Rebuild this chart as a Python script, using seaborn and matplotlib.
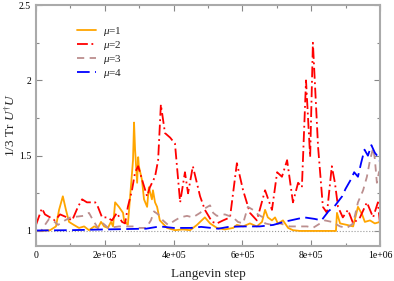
import numpy as np
import pandas as pd
import seaborn as sns
import matplotlib.pyplot as plt
from matplotlib.ticker import MultipleLocator, FixedFormatter, FixedLocator

# Langevin step in units of 1e5
steps_mu1 = [0, 0.12, 0.41, 0.58, 0.67, 0.78, 0.87, 0.96, 1.10, 1.25, 1.40, 1.54, 1.69, 1.80,
             1.89, 1.98, 2.09, 2.18, 2.24, 2.30, 2.41, 2.53, 2.56, 2.67, 2.73, 2.82, 2.85, 2.88,
             2.94, 2.97, 2.99, 3.08, 3.14, 3.23, 3.28, 3.37, 3.40, 3.46, 3.52, 3.60, 3.81, 4.04,
             4.27, 4.48, 4.68, 4.77, 4.91, 5.06, 5.26, 5.49, 5.73, 5.84, 6.02, 6.22, 6.42, 6.57,
             6.66, 6.74, 6.86, 6.95, 7.03, 7.18, 7.33, 7.47, 7.67, 8.26, 8.72, 8.75, 8.84, 9.04,
             9.22, 9.36, 9.48, 9.56, 9.71, 9.85, 10.0]
vals_mu1 = [1.0, 1.0, 1.005, 1.03, 1.14, 1.23, 1.14, 1.06, 1.04, 1.02, 1.03, 1.005, 1.03, 1.02,
            1.06, 1.03, 1.02, 1.06, 1.03, 1.19, 1.16, 1.12, 1.07, 1.04, 1.21, 1.47, 1.72, 1.54,
            1.32, 1.49, 1.43, 1.34, 1.21, 1.16, 1.29, 1.21, 1.27, 1.19, 1.16, 1.07, 1.02, 1.005,
            1.01, 1.005, 1.04, 1.06, 1.09, 1.05, 1.02, 1.01, 1.02, 1.04, 1.03, 1.05, 1.03, 1.06,
            1.14, 1.09, 1.07, 1.09, 1.05, 1.07, 1.02, 1.005, 1.0, 1.0, 1.0, 1.12, 1.05, 1.04,
            1.03, 1.16, 1.11, 1.06, 1.07, 1.05, 1.06]

steps_mu2 = [0, 0.17, 0.26, 0.41, 0.55, 0.70, 0.90, 1.05, 1.22, 1.34, 1.48, 1.57, 1.72, 1.80,
             1.92, 2.06, 2.21, 2.35, 2.50, 2.59, 2.67, 2.79, 2.88, 2.97, 3.11, 3.23, 3.31, 3.46,
             3.55, 3.63, 3.75, 3.90, 4.04, 4.19, 4.33, 4.42, 4.56, 4.77, 4.91, 5.12, 5.26, 5.44,
             5.64, 5.84, 6.02, 6.22, 6.42, 6.66, 6.86, 7.01, 7.15, 7.30, 7.47, 7.62, 7.73, 7.85,
             7.97, 8.05, 8.20, 8.34, 8.46, 8.60, 8.69, 8.78, 8.92, 9.07, 9.22, 9.42, 9.62, 9.80,
             9.94, 10.0]
vals_mu2 = [1.04, 1.15, 1.11, 1.09, 1.07, 1.11, 1.09, 1.07, 1.16, 1.21, 1.19, 1.19, 1.19, 1.16,
            1.09, 1.09, 1.07, 1.12, 1.06, 1.05, 1.16, 1.27, 1.39, 1.43, 1.32, 1.23, 1.29, 1.36,
            1.47, 1.84, 1.65, 1.62, 1.58, 1.19, 1.39, 1.25, 1.43, 1.23, 1.14, 1.06, 1.05, 1.07,
            1.09, 1.45, 1.27, 1.12, 1.07, 1.27, 1.14, 1.39, 1.36, 1.47, 1.19, 1.32, 1.29, 2.0,
            1.49, 2.25, 1.56, 1.16, 1.12, 1.43, 1.32, 1.16, 1.09, 1.14, 1.05, 1.09, 1.19, 1.09,
            1.19, 1.05]

steps_mu3 = [0, 0.15, 0.2, 0.38, 0.49, 0.64, 0.84, 1.0, 1.37, 1.54, 1.66, 1.80, 1.95, 2.1,
             2.41, 2.91, 3.0, 3.2, 3.34, 3.43, 3.55, 3.69, 3.84, 4.04, 4.19, 4.39, 4.56, 4.77,
             4.91, 5.06, 5.15, 5.26, 5.49, 5.73, 5.87, 6.02, 6.16, 6.31, 6.45, 6.60, 6.66, 6.86,
             7.09, 7.38, 7.88, 8.05, 8.40, 8.60, 8.84, 9.04, 9.22, 9.36, 9.51, 9.62, 9.71, 9.80,
             9.85, 9.91, 9.97, 10.0]
vals_mu3 = [1.0, 1.0, 1.02, 1.08, 1.07, 1.04, 1.07, 1.09, 1.10, 1.12, 1.07, 1.02, 1.05, 1.02,
            1.03, 1.03, 1.02, 1.02, 1.07, 1.13, 1.11, 1.07, 1.04, 1.07, 1.09, 1.10, 1.09, 1.12,
            1.15, 1.17, 1.12, 1.10, 1.11, 1.09, 1.06, 1.05, 1.16, 1.14, 1.11, 1.09, 1.05, 1.04,
            1.05, 1.03, 1.03, 1.02, 1.07, 1.06, 1.03, 1.02, 1.05, 1.19, 1.27, 1.36, 1.47, 1.55,
            1.48, 1.32, 1.39, 1.40]

steps_mu4 = [0, 1.0, 2.0, 2.5, 3.2, 3.6, 4.0, 4.5, 4.8, 5.3, 5.6, 6.0, 6.5, 6.9, 7.2, 7.5,
             7.8, 8.1, 8.3, 8.5, 8.7, 8.9, 9.0, 9.15, 9.25, 9.36, 9.45, 9.55, 9.65, 9.75, 9.85,
             9.95, 10.0]
vals_mu4 = [1.003, 1.005, 1.01, 1.012, 1.015, 1.03, 1.02, 1.02, 1.027, 1.015, 1.027, 1.03,
            1.03, 1.04, 1.06, 1.075, 1.09, 1.08, 1.07, 1.13, 1.17, 1.23, 1.28, 1.34, 1.39, 1.36,
            1.45, 1.54, 1.50, 1.57, 1.52, 1.49, 1.46]

labels = [r'$\mu$=$\mathit{1}$', r'$\mu$=$\mathit{2}$', r'$\mu$=$\mathit{3}$', r'$\mu$=$\mathit{4}$']
colors = ['#ffa500', '#ff0000', '#bc8f8f', '#0000ff']
dash_styles = ['-', (0, (6, 2, 1, 2)), (0, (4, 3)), (0, (7, 3))]

sns.set_style("ticks")
plt.rcParams['font.family'] = ['Liberation Serif', 'DejaVu Serif']
plt.rcParams['mathtext.fontset'] = 'custom'
plt.rcParams['mathtext.rm'] = 'Liberation Serif'
plt.rcParams['mathtext.it'] = 'Liberation Serif:italic'

fig = plt.figure(figsize=(3.94, 2.81), dpi=100)
ax = fig.add_axes([0.0914, 0.1246, 0.873, 0.857])

ax.axhline(1.0, color='#999999', lw=0.8, ls=':', zorder=1)

series = [(steps_mu1, vals_mu1), (steps_mu2, vals_mu2), (steps_mu3, vals_mu3), (steps_mu4, vals_mu4)]
for (xs, ys), lab, c, ls in zip(series, labels, colors, dash_styles):
    sns.lineplot(x=np.array(xs) * 1e5, y=ys, ax=ax, color=c, lw=1.3, label=lab, linestyle=ls)

ax.set_xlim(0, 1e6)
ax.set_ylim(0.9, 2.5)
ax.xaxis.set_major_locator(FixedLocator([0, 2e5, 4e5, 6e5, 8e5, 1e6]))
ax.xaxis.set_major_formatter(FixedFormatter(['0', '2e+05', '4e+05', '6e+05', '8e+05', '1e+06']))
ax.xaxis.set_minor_locator(MultipleLocator(1e5))
ax.yaxis.set_major_locator(FixedLocator([1, 1.5, 2, 2.5]))
ax.yaxis.set_major_formatter(FixedFormatter(['1', '1.5', '2', '2.5']))
ax.yaxis.set_minor_locator(MultipleLocator(0.25))
ax.tick_params(which='both', direction='in', top=True, right=True, colors='#888888',
               labelcolor='black', labelsize=7, width=0.8)
ax.tick_params(which='major', length=4)
ax.tick_params(which='minor', length=2.5)
for sp in ax.spines.values():
    sp.set_color('#aaaaaa')
    sp.set_linewidth(1.5)

ax.set_xlabel('Langevin step', fontsize=9.5, labelpad=6)
ax.set_ylabel(r'$\mathit{1/3}$ Tr $U^{\dagger}U$', fontsize=9.5, labelpad=1)

leg = ax.legend(loc='upper left', bbox_to_anchor=(0.09, 0.96), frameon=False, fontsize=8,
                handlelength=1.7, labelspacing=0.1, handletextpad=0.6)

fig.savefig('out.png', dpi=100)
